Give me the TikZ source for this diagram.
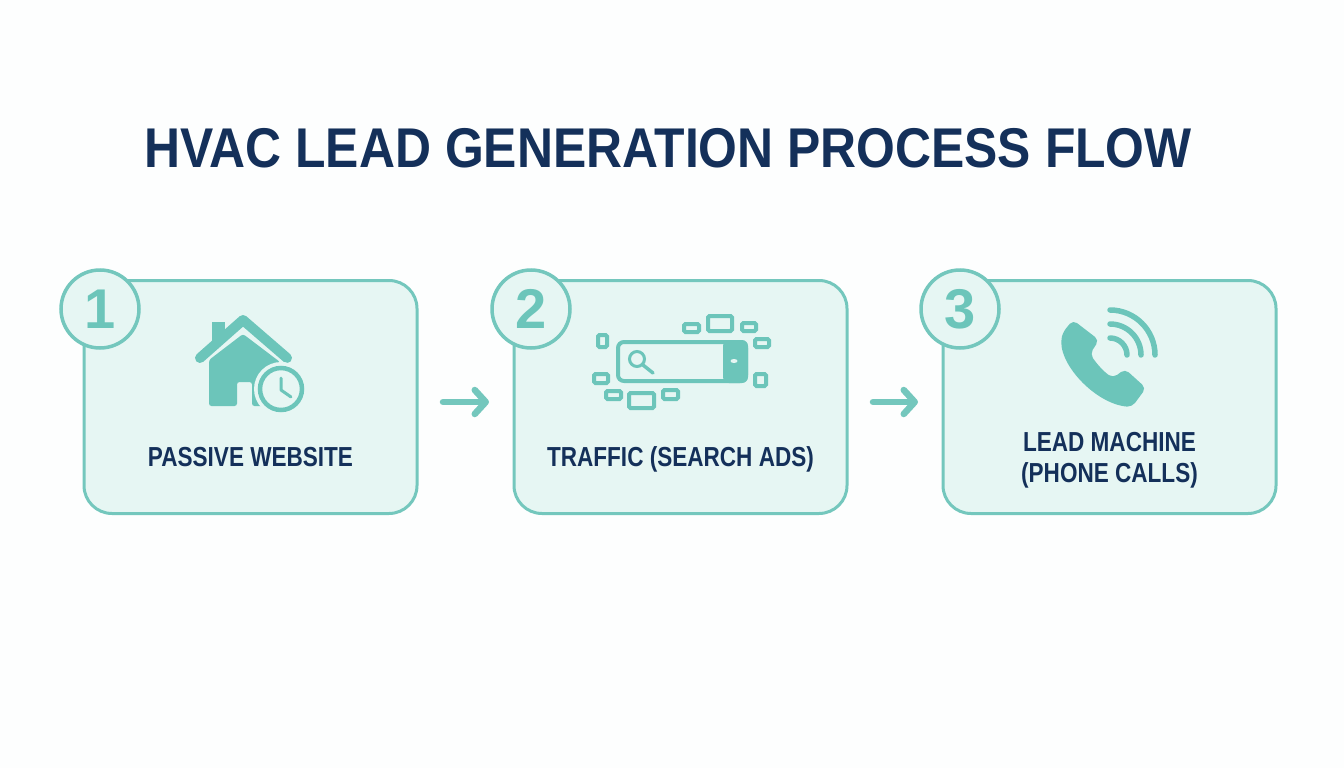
\documentclass[tikz,border=0pt]{standalone}
\usepackage{fontspec}
\setmainfont{Liberation Sans}
\newfontfamily\titlefont[FakeStretch=0.89]{Liberation Sans}
\newfontfamily\labelfont[FakeStretch=0.82]{Liberation Sans}
\usetikzlibrary{positioning,arrows.meta}
\definecolor{tealline}{HTML}{74C7BD}
\definecolor{tealfill}{HTML}{6CC5BA}
\definecolor{cardfill}{HTML}{E6F6F3}
\definecolor{navy}{HTML}{14305A}
\definecolor{pagefill}{HTML}{FDFEFE}
\tikzset{
    card/.style={draw=tealline, fill=cardfill, line width=3pt, rounded corners=28pt,
        minimum width=333pt, minimum height=233pt, inner sep=0pt, outer sep=0pt},
    badge/.style={draw=tealline, fill=cardfill, line width=3.5pt, circle, minimum size=78pt,
        inner sep=0pt, text=tealfill, font=\bfseries\fontsize{56}{56}\selectfont},
    steplabel/.style={align=center, text=navy, inner sep=0pt,
        font=\labelfont\bfseries\fontsize{27.5}{30.5}\selectfont},
    flowarrow/.style={draw=tealline, line width=6.5pt, line cap=round,
        -{Straight Barb[round,length=11pt,width=24pt]}},
    icon/.style={draw=tealfill, line width=4pt, rounded corners=1.5pt},
    wave/.style={draw=tealfill, line width=5.5pt, line cap=round},
}
\begin{document}
\begin{tikzpicture}[x=1pt, y=-1pt]
    \useasboundingbox[fill=pagefill] (0,0) rectangle (1344,768);

    \node[text=navy, inner sep=0pt, font=\titlefont\bfseries\fontsize{56}{56}\selectfont] (title) at (668,148) {HVAC LEAD GENERATION PROCESS FLOW};

    \node[card] (card1) at (250.5,397) {};
    \node[card, right=97pt of card1] (card2) {};
    \node[card, right=96pt of card2] (card3) {};

    \node[badge] (badge1) at (100,309) {1};
    \node[badge] (badge2) at (531,309) {2};
    \node[badge] (badge3) at (960,309) {3};

    \node[steplabel] (label1) at ([yshift=-60pt]card1.center) {PASSIVE WEBSITE};
    \node[steplabel] (label2) at ([yshift=-62pt]card2.center) {TRAFFIC (SEARCH ADS)};
    \node[steplabel] (label3) at ([yshift=-63pt]card3.center) {LEAD MACHINE\\(PHONE CALLS)};

    \draw[flowarrow] ([shift={(26pt,-5pt)}]card1.east) -- ([shift={(-25pt,-5pt)}]card2.west);
    \draw[flowarrow] ([shift={(26pt,-5pt)}]card2.east) -- ([shift={(-25pt,-5pt)}]card3.west);

    % house with clock
    \fill[tealfill] (212,322) rectangle (225,342);
    \draw[tealfill, line width=10pt, line cap=round, line join=round] (200,358) -- (243,320) -- (287,358);
    \fill[tealfill, rounded corners=2.5pt] (209,360) -- (243,334) -- (280,362) -- (280,406) -- (252,406) -- (252,382) -- (237,382) -- (237,406) -- (209,406) -- cycle;
    \fill[cardfill] (281,389) circle (27);
    \draw[tealfill, line width=4.5pt] (281,389) circle (21);
    \draw[tealfill, line width=3pt, line cap=round, line join=round] (281,378) -- (281,390) -- (291,397);

    % search bar and the small ads round it
    \draw[tealfill, line width=4pt, rounded corners=6pt] (618,342) rectangle (746,381);
    \fill[tealfill, rounded corners=6pt] (723,340) -- (748,340) -- (748,383) -- (723,383) -- cycle;
    \fill[cardfill] (734,361) ellipse (3.5 and 2);
    \draw[tealfill, line width=3pt] (637,359) circle (7.5);
    \draw[tealfill, line width=3.5pt, line cap=round] (643,365) -- (653,373);
    \foreach \xa/\ya/\xb/\yb in {598/335/607/347, 684/324/699/332, 708/316/732/331, 742/323/756/331, 755/339/769/347, 755/374/766/386, 594/374/608/383, 606/391/621/399, 629/393/654/408, 663/390/678/399} {
            \draw[icon] (\xa,\ya) rectangle (\xb,\yb);
    }

    % phone with signal waves
    \fill[tealfill, rounded corners=5pt] (1073,320) -- (1099,340) -- (1090,354) .. controls (1097,364) and (1103,371) .. (1113,378) -- (1125,369) -- (1146,388) -- (1132,407) .. controls (1095,404) and (1056,362) .. (1063,332) -- cycle;
    \draw[wave] (1110,310) arc[start angle=-90, end angle=0, radius=45];
    \draw[wave] (1110,324) arc[start angle=-90, end angle=0, radius=31];
    \draw[wave] (1110,338) arc[start angle=-90, end angle=0, radius=17];
\end{tikzpicture}
\end{document}
